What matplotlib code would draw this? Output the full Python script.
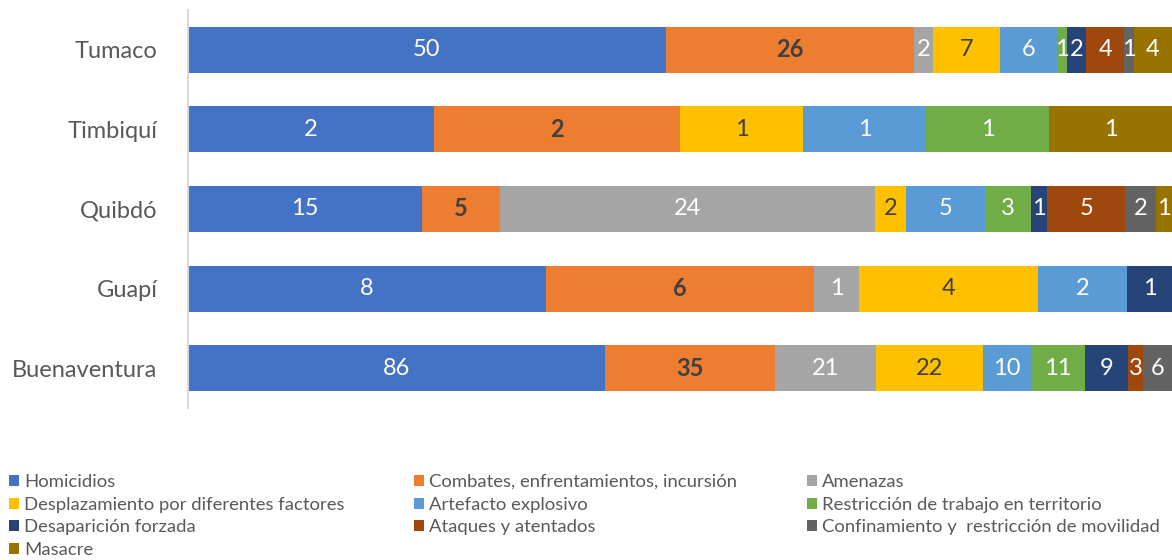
import matplotlib
matplotlib.use("Agg")
import matplotlib.pyplot as plt
from matplotlib.patches import Patch
import numpy as np

categories = ["Tumaco", "Timbiquí", "Quibdó", "Guapí", "Buenaventura"]
series_names = [
    "Homicidios",
    "Combates, enfrentamientos, incursión",
    "Amenazas",
    "Desplazamiento por diferentes factores",
    "Artefacto explosivo",
    "Restricción de trabajo en territorio",
    "Desaparición forzada",
    "Ataques y atentados",
    "Confinamiento y  restricción de movilidad",
    "Masacre",
]
homicidios = [50, 2, 15, 8, 86]
combates = [26, 2, 5, 6, 35]
amenazas = [2, 0, 24, 1, 21]
desplazamiento = [7, 1, 2, 4, 22]
artefacto = [6, 1, 5, 2, 10]
restriccion = [1, 1, 3, 0, 11]
desaparicion = [2, 0, 1, 1, 9]
ataques = [4, 0, 5, 0, 3]
confinamiento = [1, 0, 2, 0, 6]
masacre = [4, 1, 1, 0, 0]

series_values = [homicidios, combates, amenazas, desplazamiento, artefacto,
                 restriccion, desaparicion, ataques, confinamiento, masacre]
colors = ["#4472C4", "#ED7D31", "#A5A5A5", "#FFC000", "#5B9BD5",
          "#70AD47", "#264478", "#9E480E", "#636363", "#997300"]
label_colors = ["white", "#404040", "white", "#404040", "white",
                "white", "white", "white", "white", "white"]
label_weights = ["normal", "bold", "normal", "normal", "normal",
                 "normal", "normal", "normal", "normal", "normal"]

FONT = "Lato"
plt.rcParams["font.family"] = [FONT, "DejaVu Sans"]

fig = plt.figure(figsize=(11.72, 5.60), dpi=100)
W, H = 1172, 560
ax = fig.add_axes([188 / W, 1 - 408 / H, 1 - 188 / W, (408 - 10) / H])

vals = np.array(series_values, dtype=float)
totals = vals.sum(axis=0)
pct = vals / totals
y = np.arange(len(categories))
left = np.zeros(len(categories))
for i, name in enumerate(series_names):
    bars = ax.barh(y, pct[i], left=left, height=0.58, color=colors[i],
                   label=name, edgecolor="none")
    labels = [str(int(v)) if v > 0 else "" for v in vals[i]]
    ax.bar_label(bars, labels=labels, label_type="center", color=label_colors[i],
                 fontsize=17, fontweight=label_weights[i], clip_on=False)
    left += pct[i]

ax.set_xlim(0, 1)
ax.set_ylim(len(categories) - 0.5, -0.5)
ax.set_yticks(y)
ax.set_yticklabels(categories, fontsize=17, color="#595959")
ax.tick_params(axis="y", length=0, pad=22)
ax.set_xticks([])
for s in ["top", "right", "bottom"]:
    ax.spines[s].set_visible(False)
ax.spines["left"].set_color("#D9D9D9")
ax.spines["left"].set_linewidth(1.5)

handles = [Patch(facecolor=c, edgecolor="none") for c in colors]
cols = [[0, 3, 6, 9], [1, 4, 7], [2, 5, 8]]
col_x = [9, 414, 807]
for idx, cx in zip(cols, col_x):
    fig.legend([handles[k] for k in idx], [series_names[k] for k in idx],
               loc="upper left", bbox_to_anchor=(cx / W, 1 - 474 / H),
               frameon=False, fontsize=13.3, labelcolor="#595959",
               handlelength=0.55, handleheight=0.55, handletextpad=0.25,
               labelspacing=0.36, borderpad=0, borderaxespad=0)

fig.savefig("out.png", dpi=100)
